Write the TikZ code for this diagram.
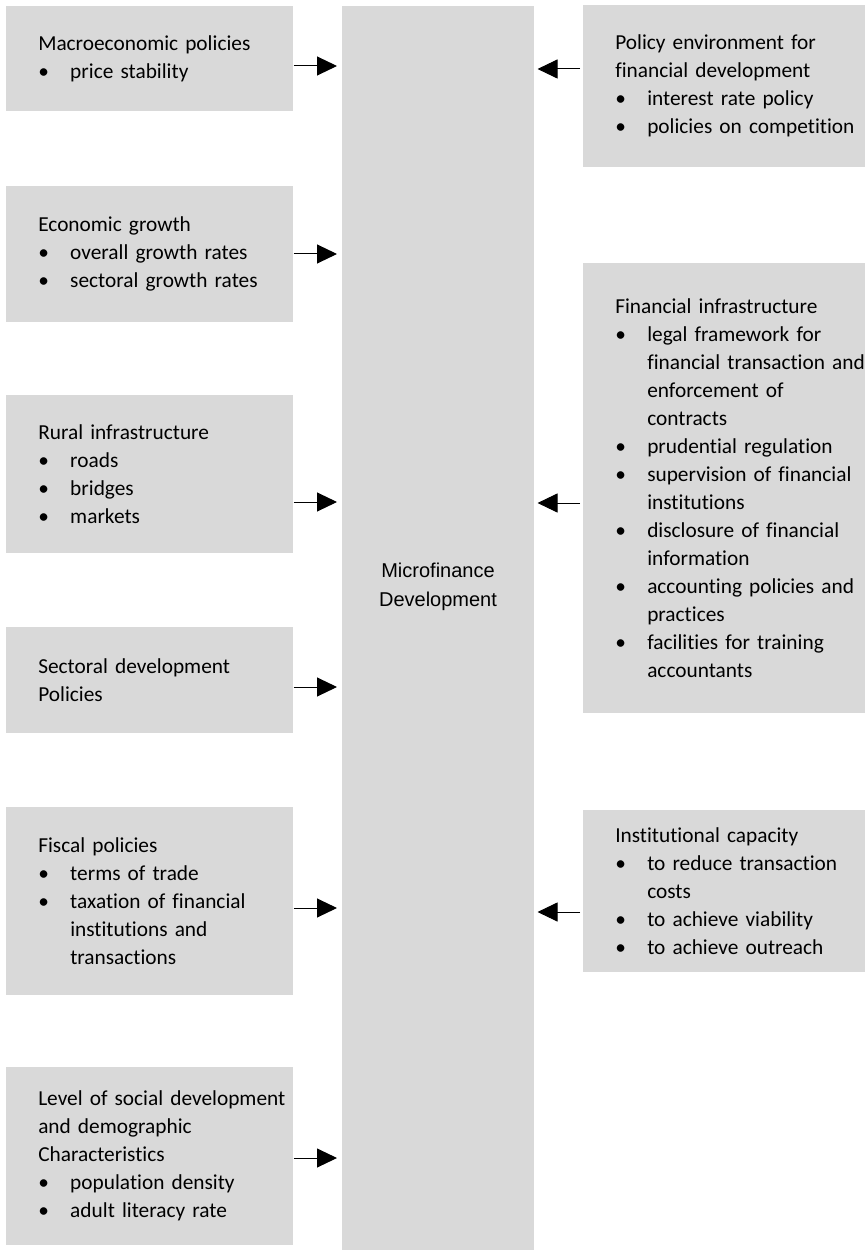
\documentclass[tikz,border=0pt]{standalone}
\usepackage{fontspec}
\setmainfont{Carlito}[Ligatures={NoCommon}]
\newfontfamily\mffont{Liberation Sans}
\usetikzlibrary{arrows.meta}
\definecolor{boxgray}{RGB}{217,217,217}
\newcommand{\bulitem}{\makebox[24pt][l]{\textbullet}}
\newcommand{\bulcont}{\hspace*{24pt}}

\begin{document}
\begin{tikzpicture}[x=0.75pt, y=-0.75pt, every node/.style={inner sep=0pt},
    sidebox/.style={fill=boxgray, anchor=north west, align=left,
      font=\fontsize{16}{21}\selectfont, execute at begin node={\leftskip=24pt}},
    lbox/.style={sidebox, text width=287*0.75pt},
    rbox/.style={sidebox, text width=282*0.75pt},
    pillar/.style={fill=boxgray, anchor=north west, minimum width=192*0.75pt, minimum height=1244*0.75pt},
    flow/.style={-{Triangle[length=15pt, width=14.25pt]}, line width=0.75pt}]

      \useasboundingbox (0,0) rectangle (865,1251);

      % centre column
      \node[pillar] (mf) at (342,6) {};
      \node[font=\mffont\fontsize{15}{21.75}\selectfont, align=center] (mflabel) at (438,587) {Microfinance\\ Development};

      % left hand factors
      \node[lbox, minimum height=105*0.75pt] (macro) at (6,6) {Macroeconomic policies\\ \bulitem price stability};
      \node[lbox, minimum height=136*0.75pt] (growth) at (6,186) {Economic growth\\ \bulitem overall growth rates\\ \bulitem sectoral growth rates};
      \node[lbox, minimum height=158*0.75pt] (rural) at (6,395) {Rural infrastructure\\ \bulitem roads\\ \bulitem bridges\\ \bulitem markets};
      \node[lbox, minimum height=106*0.75pt] (sector) at (6,627) {Sectoral development\\ Policies};
      \node[lbox, minimum height=188*0.75pt] (fiscal) at (6,807) {Fiscal policies\\ \bulitem terms of trade\\ \bulitem taxation of financial\\ \bulcont institutions and\\ \bulcont transactions};
      \node[lbox, minimum height=178*0.75pt] (social) at (6,1067) {Level of social development\\ and demographic\\ Characteristics\\ \bulitem population density\\ \bulitem adult literacy rate};

      % right hand factors
      \node[rbox, minimum height=162*0.75pt] (policy) at (583,5) {Policy environment for\\ financial development\\ \bulitem interest rate policy\\ \bulitem policies on competition};
      \node[rbox, minimum height=450*0.75pt] (finance) at (583,263) {Financial infrastructure\\ \bulitem legal framework for\\ \bulcont financial transaction and\\ \bulcont enforcement of\\ \bulcont contracts\\ \bulitem prudential regulation\\ \bulitem supervision of financial\\ \bulcont institutions\\ \bulitem disclosure of financial\\ \bulcont information\\ \bulitem accounting policies and\\ \bulcont practices\\ \bulitem facilities for training\\ \bulcont accountants};
      \node[rbox, minimum height=162*0.75pt] (capacity) at (583,810) {Institutional capacity\\ \bulitem to reduce transaction\\ \bulcont costs\\ \bulitem to achieve viability\\ \bulitem to achieve outreach};

      % arrows into the centre
      \draw[flow, shorten >=3.75pt] (macro.east |- 0,66) -- (mf.west |- 0,66);
      \draw[flow, shorten >=3.75pt] (growth.east |- 0,254) -- (mf.west |- 0,254);
      \draw[flow, shorten >=3.75pt] (rural.east |- 0,502) -- (mf.west |- 0,502);
      \draw[flow, shorten >=3.75pt] (sector.east |- 0,687) -- (mf.west |- 0,687);
      \draw[flow, shorten >=3.75pt] (fiscal.east |- 0,908) -- (mf.west |- 0,908);
      \draw[flow, shorten >=3.75pt] (social.east |- 0,1158) -- (mf.west |- 0,1158);

      \draw[flow, shorten <=2.25pt, shorten >=2.25pt] (policy.west |- 0,69) -- (mf.east |- 0,69);
      \draw[flow, shorten <=2.25pt, shorten >=2.25pt] (finance.west |- 0,503) -- (mf.east |- 0,503);
      \draw[flow, shorten <=2.25pt, shorten >=2.25pt] (capacity.west |- 0,912) -- (mf.east |- 0,912);

\end{tikzpicture}
\end{document}
